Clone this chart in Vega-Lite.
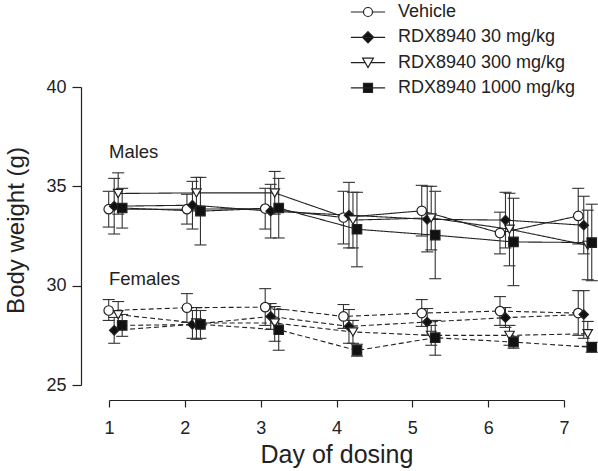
{
  "$schema": "https://vega.github.io/schema/vega-lite/v6.json",
  "width": 455,
  "height": 298,
  "autosize": {"type": "none"},
  "padding": {"left": 109, "top": 87, "right": 34, "bottom": 86},
  "background": "white",
  "config": {
    "view": {"stroke": null},
    "font": "Liberation Sans",
    "axis": {"grid": false, "domainColor": "#222", "tickColor": "#222", "labelColor": "#222", "titleColor": "#222", "labelFontWeight": "normal", "titleFontWeight": "normal", "labelFlush": false, "domainWidth": 1.2, "tickWidth": 1.2}
  },
  "datasets": {
    "labels": [
      {"label": "Males", "day": 1, "weight": 36.72},
      {"label": "Females", "day": 1, "weight": 30.32}
    ],
    "weights": [
      {"sex": "Males", "dose": "Vehicle", "day": 1, "mean": 33.85, "lo": 32.95, "hi": 34.75},
      {"sex": "Males", "dose": "Vehicle", "day": 2, "mean": 33.85, "lo": 33.1, "hi": 34.6},
      {"sex": "Males", "dose": "Vehicle", "day": 3, "mean": 33.88, "lo": 32.85, "hi": 34.9},
      {"sex": "Males", "dose": "Vehicle", "day": 4, "mean": 33.43, "lo": 32.1, "hi": 34.75},
      {"sex": "Males", "dose": "Vehicle", "day": 5, "mean": 33.77, "lo": 32.5, "hi": 35.05},
      {"sex": "Males", "dose": "Vehicle", "day": 6, "mean": 32.65, "lo": 31.6, "hi": 33.7},
      {"sex": "Males", "dose": "Vehicle", "day": 7, "mean": 33.51, "lo": 32.1, "hi": 34.9},
      {"sex": "Males", "dose": "RDX8940 30 mg/kg", "day": 1, "mean": 34.0, "lo": 32.6, "hi": 35.4},
      {"sex": "Males", "dose": "RDX8940 30 mg/kg", "day": 2, "mean": 34.05, "lo": 32.85, "hi": 35.25},
      {"sex": "Males", "dose": "RDX8940 30 mg/kg", "day": 3, "mean": 33.75, "lo": 32.4, "hi": 35.1},
      {"sex": "Males", "dose": "RDX8940 30 mg/kg", "day": 4, "mean": 33.55, "lo": 31.9, "hi": 35.2},
      {"sex": "Males", "dose": "RDX8940 30 mg/kg", "day": 5, "mean": 33.34, "lo": 31.7, "hi": 35.0},
      {"sex": "Males", "dose": "RDX8940 30 mg/kg", "day": 6, "mean": 33.3, "lo": 31.9, "hi": 34.7},
      {"sex": "Males", "dose": "RDX8940 30 mg/kg", "day": 7, "mean": 33.04, "lo": 31.6, "hi": 34.5},
      {"sex": "Males", "dose": "RDX8940 300 mg/kg", "day": 1, "mean": 34.64, "lo": 33.6, "hi": 35.68},
      {"sex": "Males", "dose": "RDX8940 300 mg/kg", "day": 2, "mean": 34.67, "lo": 33.9, "hi": 35.45},
      {"sex": "Males", "dose": "RDX8940 300 mg/kg", "day": 3, "mean": 34.67, "lo": 33.6, "hi": 35.75},
      {"sex": "Males", "dose": "RDX8940 300 mg/kg", "day": 4, "mean": 33.3, "lo": 31.9, "hi": 34.7},
      {"sex": "Males", "dose": "RDX8940 300 mg/kg", "day": 5, "mean": 33.41, "lo": 31.8, "hi": 35.0},
      {"sex": "Males", "dose": "RDX8940 300 mg/kg", "day": 6, "mean": 32.84, "lo": 31.0, "hi": 34.65},
      {"sex": "Males", "dose": "RDX8940 300 mg/kg", "day": 7, "mean": 32.03, "lo": 30.3, "hi": 33.8},
      {"sex": "Males", "dose": "RDX8940 1000 mg/kg", "day": 1, "mean": 33.91, "lo": 32.9, "hi": 34.9},
      {"sex": "Males", "dose": "RDX8940 1000 mg/kg", "day": 2, "mean": 33.75, "lo": 32.05, "hi": 35.45},
      {"sex": "Males", "dose": "RDX8940 1000 mg/kg", "day": 3, "mean": 33.91, "lo": 32.4, "hi": 35.4},
      {"sex": "Males", "dose": "RDX8940 1000 mg/kg", "day": 4, "mean": 32.84, "lo": 30.95, "hi": 34.7},
      {"sex": "Males", "dose": "RDX8940 1000 mg/kg", "day": 5, "mean": 32.54, "lo": 30.35, "hi": 34.75},
      {"sex": "Males", "dose": "RDX8940 1000 mg/kg", "day": 6, "mean": 32.2, "lo": 30.0, "hi": 34.4},
      {"sex": "Males", "dose": "RDX8940 1000 mg/kg", "day": 7, "mean": 32.17, "lo": 30.25, "hi": 34.1},
      {"sex": "Females", "dose": "Vehicle", "day": 1, "mean": 28.75, "lo": 28.25, "hi": 29.3},
      {"sex": "Females", "dose": "Vehicle", "day": 2, "mean": 28.89, "lo": 28.15, "hi": 29.6},
      {"sex": "Females", "dose": "Vehicle", "day": 3, "mean": 28.92, "lo": 28.0, "hi": 29.85},
      {"sex": "Females", "dose": "Vehicle", "day": 4, "mean": 28.45, "lo": 27.85, "hi": 29.05},
      {"sex": "Females", "dose": "Vehicle", "day": 5, "mean": 28.62, "lo": 27.95, "hi": 29.3},
      {"sex": "Females", "dose": "Vehicle", "day": 6, "mean": 28.72, "lo": 28.0, "hi": 29.45},
      {"sex": "Females", "dose": "Vehicle", "day": 7, "mean": 28.62, "lo": 27.5, "hi": 29.75},
      {"sex": "Females", "dose": "RDX8940 30 mg/kg", "day": 1, "mean": 27.75, "lo": 27.1, "hi": 28.4},
      {"sex": "Females", "dose": "RDX8940 30 mg/kg", "day": 2, "mean": 28.05, "lo": 27.35, "hi": 28.75},
      {"sex": "Females", "dose": "RDX8940 30 mg/kg", "day": 3, "mean": 28.45, "lo": 27.8, "hi": 29.1},
      {"sex": "Females", "dose": "RDX8940 30 mg/kg", "day": 4, "mean": 27.95, "lo": 27.1, "hi": 28.8},
      {"sex": "Females", "dose": "RDX8940 30 mg/kg", "day": 5, "mean": 28.17, "lo": 27.5, "hi": 28.85},
      {"sex": "Females", "dose": "RDX8940 30 mg/kg", "day": 6, "mean": 28.39, "lo": 27.9, "hi": 28.9},
      {"sex": "Females", "dose": "RDX8940 30 mg/kg", "day": 7, "mean": 28.55, "lo": 27.35, "hi": 29.75},
      {"sex": "Females", "dose": "RDX8940 300 mg/kg", "day": 1, "mean": 28.54, "lo": 27.9, "hi": 29.2},
      {"sex": "Females", "dose": "RDX8940 300 mg/kg", "day": 2, "mean": 28.12, "lo": 27.3, "hi": 28.9},
      {"sex": "Females", "dose": "RDX8940 300 mg/kg", "day": 3, "mean": 28.12, "lo": 27.2, "hi": 28.95},
      {"sex": "Females", "dose": "RDX8940 300 mg/kg", "day": 4, "mean": 27.67, "lo": 27.1, "hi": 28.25},
      {"sex": "Females", "dose": "RDX8940 300 mg/kg", "day": 5, "mean": 27.5, "lo": 27.0, "hi": 28.0},
      {"sex": "Females", "dose": "RDX8940 300 mg/kg", "day": 6, "mean": 27.5, "lo": 27.0, "hi": 28.0},
      {"sex": "Females", "dose": "RDX8940 300 mg/kg", "day": 7, "mean": 27.58, "lo": 26.95, "hi": 28.2},
      {"sex": "Females", "dose": "RDX8940 1000 mg/kg", "day": 1, "mean": 28.0, "lo": 27.45, "hi": 28.55},
      {"sex": "Females", "dose": "RDX8940 1000 mg/kg", "day": 2, "mean": 28.05, "lo": 27.35, "hi": 28.75},
      {"sex": "Females", "dose": "RDX8940 1000 mg/kg", "day": 3, "mean": 27.78, "lo": 26.75, "hi": 28.8},
      {"sex": "Females", "dose": "RDX8940 1000 mg/kg", "day": 4, "mean": 26.74, "lo": 26.45, "hi": 27.05},
      {"sex": "Females", "dose": "RDX8940 1000 mg/kg", "day": 5, "mean": 27.38, "lo": 26.5, "hi": 28.25},
      {"sex": "Females", "dose": "RDX8940 1000 mg/kg", "day": 6, "mean": 27.16, "lo": 26.85, "hi": 27.45},
      {"sex": "Females", "dose": "RDX8940 1000 mg/kg", "day": 7, "mean": 26.9, "lo": 26.65, "hi": 27.15}
    ]
  },
  "layer": [
    {
      "data": {"name": "labels"},
      "mark": {"type": "text", "align": "left", "baseline": "middle", "fontSize": 18.5, "color": "#222"},
      "encoding": {
        "x": {"field": "day", "type": "quantitative", "scale": {"domain": [1, 7], "nice": false, "zero": false},
          "axis": {"values": [1, 2, 3, 4, 5, 6, 7], "format": "d", "offset": 15, "tickSize": 7, "labelPadding": 12, "labelFontSize": 18, "title": "Day of dosing", "titleFontSize": 25, "titlePadding": 5}},
        "y": {"field": "weight", "type": "quantitative", "scale": {"domain": [25, 40], "nice": false, "zero": false},
          "axis": {"values": [25, 30, 35, 40], "offset": 28, "tickSize": 9, "labelPadding": 6, "labelFontSize": 18, "title": "Body weight (g)", "titleFontSize": 24, "titlePadding": 17, "titleY": 143}},
        "text": {"field": "label"}
      }
    },
    {
      "data": {"name": "weights"},
      "encoding": {
        "x": {"field": "day", "type": "quantitative", "scale": {"domain": [1.004, 6.818], "nice": false, "zero": false}, "axis": null}
      },
      "layer": [
        {
          "mark": {"type": "rule", "color": "#333", "strokeWidth": 1.1, "xOffset": {"expr": "datum.dose === 'Vehicle' ? 0 : datum.dose === 'RDX8940 30 mg/kg' ? 5.5 : datum.dose === 'RDX8940 300 mg/kg' ? 9.5 : 13.5"}},
          "encoding": {
            "y": {"field": "lo", "type": "quantitative", "scale": {"domain": [25, 40], "nice": false, "zero": false},
              "axis": {"values": [25, 30, 35, 40], "offset": 28, "tickSize": 9, "labelPadding": 6, "labelFontSize": 18, "title": "Body weight (g)", "titleFontSize": 24, "titlePadding": 17, "titleY": 143}},
            "y2": {"field": "hi"}
          }
        },
        {
          "mark": {"type": "tick", "orient": "horizontal", "size": 12, "thickness": 1.1, "color": "#333", "opacity": 1, "xOffset": {"expr": "datum.dose === 'Vehicle' ? 0 : datum.dose === 'RDX8940 30 mg/kg' ? 5.5 : datum.dose === 'RDX8940 300 mg/kg' ? 9.5 : 13.5"}},
          "encoding": {"y": {"field": "lo", "type": "quantitative"}}
        },
        {
          "mark": {"type": "tick", "orient": "horizontal", "size": 12, "thickness": 1.1, "color": "#333", "opacity": 1, "xOffset": {"expr": "datum.dose === 'Vehicle' ? 0 : datum.dose === 'RDX8940 30 mg/kg' ? 5.5 : datum.dose === 'RDX8940 300 mg/kg' ? 9.5 : 13.5"}},
          "encoding": {"y": {"field": "hi", "type": "quantitative"}}
        },
        {
          "mark": {"type": "line", "color": "#222", "strokeWidth": 1.1, "xOffset": {"expr": "datum.dose === 'Vehicle' ? 0 : datum.dose === 'RDX8940 30 mg/kg' ? 5.5 : datum.dose === 'RDX8940 300 mg/kg' ? 9.5 : 13.5"}},
          "encoding": {
            "y": {"field": "mean", "type": "quantitative"},
            "detail": [{"field": "sex"}, {"field": "dose"}],
            "strokeDash": {"field": "sex", "type": "nominal", "scale": {"domain": ["Males", "Females"], "range": [[1, 0], [5, 3]]}, "legend": null}
          }
        },
        {
          "mark": {"type": "point", "filled": true, "size": 90, "stroke": "#222", "strokeWidth": 1.2, "opacity": 1, "xOffset": {"expr": "datum.dose === 'Vehicle' ? 0 : datum.dose === 'RDX8940 30 mg/kg' ? 5.5 : datum.dose === 'RDX8940 300 mg/kg' ? 9.5 : 13.5"}},
          "encoding": {
            "y": {"field": "mean", "type": "quantitative"},
            "shape": {"field": "dose", "type": "nominal", "scale": {"domain": ["Vehicle", "RDX8940 30 mg/kg", "RDX8940 300 mg/kg", "RDX8940 1000 mg/kg"], "range": ["circle", "diamond", "triangle-down", "square"]}, "legend": null},
            "fill": {"field": "dose", "type": "nominal", "scale": {"domain": ["Vehicle", "RDX8940 30 mg/kg", "RDX8940 300 mg/kg", "RDX8940 1000 mg/kg"], "range": ["white", "#111", "white", "#111"]}, "legend": null}
          }
        },
        {
          "mark": {"type": "point", "filled": true, "size": 81, "strokeWidth": 1.2, "opacity": 0},
          "encoding": {
            "y": {"field": "mean", "type": "quantitative"},
            "shape": {"field": "dose", "type": "nominal", "scale": {"domain": ["Vehicle", "RDX8940 30 mg/kg", "RDX8940 300 mg/kg", "RDX8940 1000 mg/kg"], "range": ["M-3.8,0H-1M1,0H3.8M1,0A1,1,0,1,1,-1,0A1,1,0,1,1,1,0Z", "M-3.8,0H3.8M0,-1.25L1.25,0L0,1.25L-1.25,0Z", "M-3.8,0H-0.6M0.6,0H3.8M-1.2,-1L1.2,-1L0,1.1Z", "M-3.8,0H3.8M-1,-1H1V1H-1Z"]},
              "legend": {"orient": "none", "legendX": 250, "legendY": -84, "title": null, "padding": 0, "labelFontSize": 18, "labelColor": "#222", "labelLimit": 0, "symbolSize": 81, "symbolOpacity": 1, "labelOffset": 21, "rowPadding": 7.3, "symbolStrokeWidth": 1.2}},
            "fill": {"field": "dose", "type": "nominal", "scale": {"domain": ["Vehicle", "RDX8940 30 mg/kg", "RDX8940 300 mg/kg", "RDX8940 1000 mg/kg"], "range": ["white", "#111", "white", "#111"]},
              "legend": {"orient": "none", "legendX": 250, "legendY": -84, "title": null, "padding": 0, "labelFontSize": 18, "labelColor": "#222", "labelLimit": 0, "symbolSize": 81, "symbolOpacity": 1, "labelOffset": 21, "rowPadding": 7.3, "symbolStrokeWidth": 1.2}},
            "stroke": {"field": "dose", "type": "nominal", "scale": {"domain": ["Vehicle", "RDX8940 30 mg/kg", "RDX8940 300 mg/kg", "RDX8940 1000 mg/kg"], "range": ["#222", "#222", "#222", "#222"]},
              "legend": {"orient": "none", "legendX": 250, "legendY": -84, "title": null, "padding": 0, "labelFontSize": 18, "labelColor": "#222", "labelLimit": 0, "symbolSize": 81, "symbolOpacity": 1, "labelOffset": 21, "rowPadding": 7.3, "symbolStrokeWidth": 1.2}}
          }
        }
      ],
      "resolve": {"scale": {"shape": "independent", "fill": "independent", "stroke": "independent"}}
    }
  ],
  "resolve": {"scale": {"x": "independent"}}
}
